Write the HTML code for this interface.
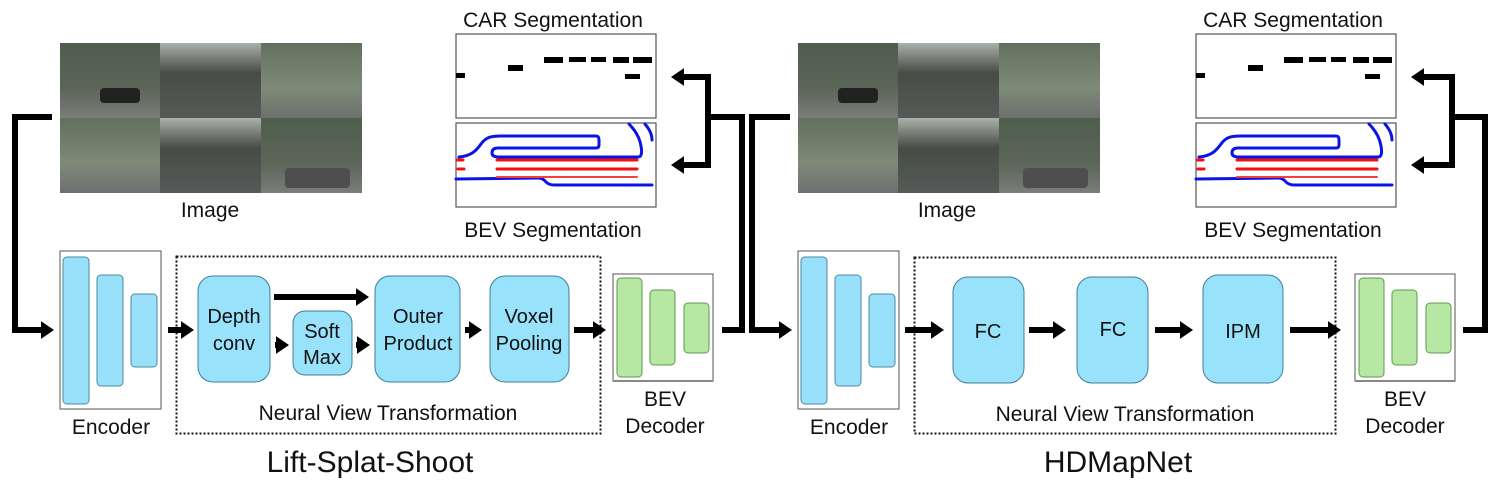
<!DOCTYPE html>
<html><head><meta charset="utf-8"><style>
html,body{margin:0;padding:0;background:#fff;}
svg{display:block;}
text{font-family:"Liberation Sans","DejaVu Sans",sans-serif;fill:#111;}
</style></head><body>
<svg width="1495" height="491" viewBox="0 0 1495 491" xmlns="http://www.w3.org/2000/svg">
<defs>
<marker id="ah" markerWidth="3" markerHeight="3" refX="1.2" refY="1.5" orient="auto" markerUnits="strokeWidth">
<path d="M0,0 L2.2,1.5 L0,3 z" fill="#000"/></marker>
<linearGradient id="tA" x1="0" y1="0" x2="0" y2="1"><stop offset="0" stop-color="#4f5e4c"/><stop offset="0.6" stop-color="#5b6558"/><stop offset="1" stop-color="#7a7d7a"/></linearGradient>
<linearGradient id="tB" x1="0" y1="0" x2="0" y2="1"><stop offset="0" stop-color="#aab0aa"/><stop offset="0.4" stop-color="#474d45"/><stop offset="1" stop-color="#555a58"/></linearGradient>
<linearGradient id="tC" x1="0" y1="0" x2="0" y2="1"><stop offset="0" stop-color="#62705d"/><stop offset="0.6" stop-color="#7e8a78"/><stop offset="1" stop-color="#6d706e"/></linearGradient>
<g id="photos">
<rect x="0" y="0" width="100" height="75" fill="url(#tA)"/>
<rect x="100" y="0" width="101" height="75" fill="url(#tB)"/>
<rect x="201" y="0" width="101" height="75" fill="url(#tC)"/>
<rect x="0" y="75" width="100" height="75" fill="url(#tC)"/>
<rect x="100" y="75" width="101" height="75" fill="url(#tB)"/>
<rect x="201" y="75" width="101" height="75" fill="url(#tA)"/>
<rect x="40" y="45" width="40" height="15" rx="4" fill="#222"/>
<rect x="225" y="125" width="65" height="20" rx="4" fill="#4e4e50"/>
</g>
<g id="seg">
<rect x="0" y="0" width="200" height="84" fill="#fff" stroke="#555" stroke-width="1.2"/>
<rect x="0" y="89" width="200" height="84" fill="#fff" stroke="#555" stroke-width="1.2"/>
<g fill="#000">
<rect x="0" y="39" width="9" height="5"/><rect x="52" y="31" width="15" height="6"/>
<rect x="88" y="23" width="19" height="6"/><rect x="113" y="23" width="17" height="5"/>
<rect x="135" y="23" width="15" height="5"/><rect x="157" y="23" width="16" height="6"/>
<rect x="177" y="23" width="19" height="6"/><rect x="169" y="40" width="15" height="5"/>
</g>
<g fill="none" stroke-linecap="round" stroke-linejoin="round">
<path d="M3,123 C15,122 20,117 25,110 C30,103 35,102 45,102 L140,102 Q143,102 143,106 L143,111 Q143,114 140,114 L42,114 Q36,114 36,119 Q36,123 43,123 L182,123 Q187,123 185,112 Q183,100 173,90" stroke="#0a14e6" stroke-width="3"/>
<path d="M189,90 Q196,98 196,106" stroke="#0a14e6" stroke-width="3"/>
<path d="M0,145 L82,144 Q87,144 90,148 Q93,151 98,151 L196,151" stroke="#0a14e6" stroke-width="3"/>
<path d="M41,126 L181,126 M41,135 L181,135" stroke="#f21010" stroke-width="3"/>
<path d="M41,143 L181,143" stroke="#f04040" stroke-width="2"/>
<path d="M1,126 L7,126 M2,135 L8,135" stroke="#f21010" stroke-width="3"/>
</g>
</g>
<g id="enc">
<rect x="0" y="0" width="101" height="158" fill="#fff" stroke="#555" stroke-width="1"/>
<rect x="3" y="6" width="26" height="147" rx="4" fill="#99e0fb" stroke="#4a8aa0"/>
<rect x="37" y="24" width="26" height="111" rx="4" fill="#99e0fb" stroke="#4a8aa0"/>
<rect x="71" y="43" width="26" height="73" rx="4" fill="#99e0fb" stroke="#4a8aa0"/>
</g>
<g id="dec">
<rect x="0" y="0" width="100" height="107" fill="#fff" stroke="#555" stroke-width="1"/>
<line x1="0" y1="107" x2="100" y2="107" stroke="#888" stroke-width="2"/>
<rect x="4" y="4" width="25" height="99" rx="4" fill="#b6e8a4" stroke="#5f9a4c"/>
<rect x="37" y="16" width="25" height="75" rx="4" fill="#b6e8a4" stroke="#5f9a4c"/>
<rect x="71" y="29" width="25" height="50" rx="4" fill="#b6e8a4" stroke="#5f9a4c"/>
</g>
</defs>

<!-- LEFT PANEL -->
<use href="#photos" x="60" y="43"/>
<text x="210" y="217" font-size="21" text-anchor="middle">Image</text>
<use href="#seg" x="456" y="34"/>
<text x="553" y="27" font-size="21" text-anchor="middle">CAR Segmentation</text>
<text x="553" y="237" font-size="21" text-anchor="middle">BEV Segmentation</text>
<path d="M52,117 L15,117 L15,330 L48,330" fill="none" stroke="#000" stroke-width="6" marker-end="url(#ah)"/>
<use href="#enc" x="60" y="251"/>
<text x="111" y="434" font-size="21" text-anchor="middle">Encoder</text>
<rect x="176.5" y="256.5" width="424" height="177" fill="none" stroke="#111" stroke-width="2" stroke-dasharray="2,2"/>
<line x1="168" y1="330" x2="188" y2="330" stroke="#000" stroke-width="6" marker-end="url(#ah)"/>
<rect x="198" y="276" width="72" height="106" rx="15" fill="#99e2fc" stroke="#3f7f95"/>
<text x="234" y="323" font-size="20" text-anchor="middle">Depth</text>
<text x="234" y="350" font-size="20" text-anchor="middle">conv</text>
<line x1="274" y1="297" x2="363" y2="297" stroke="#000" stroke-width="6" marker-end="url(#ah)"/>
<line x1="275" y1="345" x2="283" y2="345" stroke="#000" stroke-width="6" marker-end="url(#ah)"/>
<rect x="293" y="311" width="59" height="64" rx="12" fill="#99e2fc" stroke="#3f7f95"/>
<text x="322" y="338" font-size="20" text-anchor="middle">Soft</text>
<text x="322" y="364" font-size="20" text-anchor="middle">Max</text>
<line x1="356" y1="345" x2="364" y2="345" stroke="#000" stroke-width="6" marker-end="url(#ah)"/>
<rect x="375" y="276" width="85" height="106" rx="15" fill="#99e2fc" stroke="#3f7f95"/>
<text x="418" y="323" font-size="20" text-anchor="middle">Outer</text>
<text x="418" y="350" font-size="20" text-anchor="middle">Product</text>
<line x1="465" y1="330" x2="476" y2="330" stroke="#000" stroke-width="6" marker-end="url(#ah)"/>
<rect x="490" y="276" width="79" height="106" rx="15" fill="#99e2fc" stroke="#3f7f95"/>
<text x="529" y="323" font-size="20" text-anchor="middle">Voxel</text>
<text x="529" y="350" font-size="20" text-anchor="middle">Pooling</text>
<line x1="574" y1="330" x2="600" y2="330" stroke="#000" stroke-width="6" marker-end="url(#ah)"/>
<text x="388" y="420" font-size="21" text-anchor="middle">Neural View Transformation</text>
<use href="#dec" x="613" y="274"/>
<text x="665" y="406" font-size="21" text-anchor="middle">BEV</text>
<text x="665" y="433" font-size="21" text-anchor="middle">Decoder</text>
<path d="M722,330 L742,330 L742,117 L708,117" fill="none" stroke="#000" stroke-width="6"/>
<path d="M708,77 L708,165" fill="none" stroke="#000" stroke-width="6"/>
<line x1="711" y1="77" x2="677" y2="77" stroke="#000" stroke-width="6" marker-end="url(#ah)"/>
<line x1="711" y1="165" x2="677" y2="165" stroke="#000" stroke-width="6" marker-end="url(#ah)"/>
<text x="370" y="472" font-size="30" text-anchor="middle">Lift-Splat-Shoot</text>

<!-- RIGHT PANEL -->
<use href="#photos" x="798" y="43"/>
<text x="947" y="217" font-size="21" text-anchor="middle">Image</text>
<use href="#seg" x="1196" y="34"/>
<text x="1293" y="27" font-size="21" text-anchor="middle">CAR Segmentation</text>
<text x="1293" y="237" font-size="21" text-anchor="middle">BEV Segmentation</text>
<path d="M790,117 L752,117 L752,330 L786,330" fill="none" stroke="#000" stroke-width="6" marker-end="url(#ah)"/>
<use href="#enc" x="798" y="251"/>
<text x="849" y="434" font-size="21" text-anchor="middle">Encoder</text>
<rect x="914.5" y="257.5" width="421" height="176" fill="none" stroke="#111" stroke-width="2" stroke-dasharray="2,2"/>
<line x1="905" y1="330" x2="938" y2="330" stroke="#000" stroke-width="6" marker-end="url(#ah)"/>
<rect x="953" y="277" width="71" height="106" rx="15" fill="#99e2fc" stroke="#3f7f95"/>
<text x="988" y="338" font-size="20" text-anchor="middle">FC</text>
<line x1="1029" y1="330" x2="1060" y2="330" stroke="#000" stroke-width="6" marker-end="url(#ah)"/>
<rect x="1077" y="277" width="71" height="106" rx="15" fill="#99e2fc" stroke="#3f7f95"/>
<text x="1113" y="336" font-size="20" text-anchor="middle">FC</text>
<line x1="1155" y1="330" x2="1187" y2="330" stroke="#000" stroke-width="6" marker-end="url(#ah)"/>
<rect x="1203" y="275" width="80" height="108" rx="15" fill="#99e2fc" stroke="#3f7f95"/>
<text x="1243" y="338" font-size="20" text-anchor="middle">IPM</text>
<line x1="1290" y1="330" x2="1335" y2="330" stroke="#000" stroke-width="6" marker-end="url(#ah)"/>
<text x="1125" y="421" font-size="21" text-anchor="middle">Neural View Transformation</text>
<use href="#dec" x="1355" y="274"/>
<text x="1405" y="406" font-size="21" text-anchor="middle">BEV</text>
<text x="1405" y="433" font-size="21" text-anchor="middle">Decoder</text>
<path d="M1463,330 L1485,330 L1485,117 L1452,117" fill="none" stroke="#000" stroke-width="6"/>
<path d="M1452,77 L1452,165" fill="none" stroke="#000" stroke-width="6"/>
<line x1="1455" y1="77" x2="1417" y2="77" stroke="#000" stroke-width="6" marker-end="url(#ah)"/>
<line x1="1455" y1="165" x2="1417" y2="165" stroke="#000" stroke-width="6" marker-end="url(#ah)"/>
<text x="1118" y="472" font-size="30" text-anchor="middle">HDMapNet</text>
</svg>
</body></html>
